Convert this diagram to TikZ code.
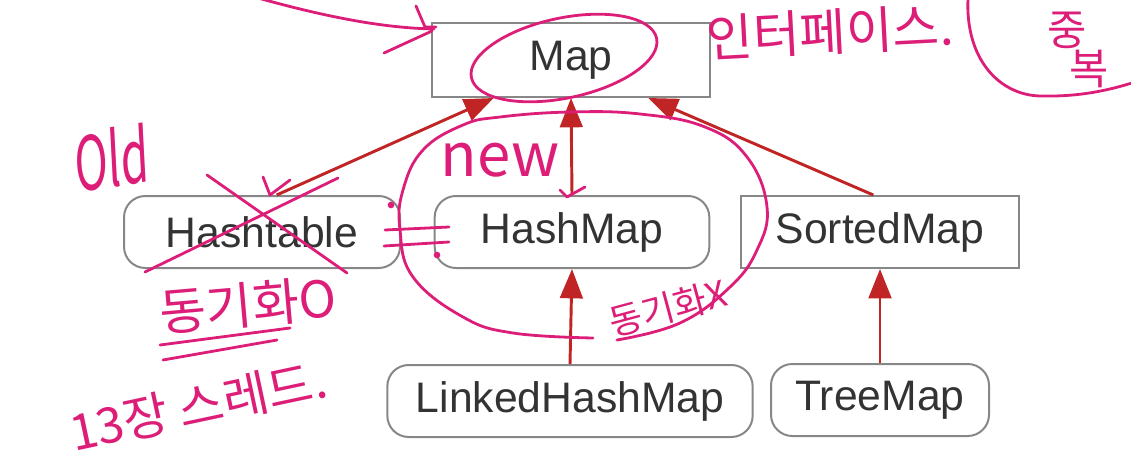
\documentclass[tikz,border=0pt]{standalone}
\usepackage{fontspec}
\setmainfont{Liberation Sans}
\newfontfamily\kr{Noto Sans CJK KR}
\usetikzlibrary{arrows.meta}
\definecolor{boxline}{RGB}{135,135,135}
\definecolor{arrowred}{RGB}{192,36,36}
\definecolor{penpink}{RGB}{220,30,120}
\begin{document}
\begin{tikzpicture}[x=0.75pt,y=-0.75pt,
  cls/.style={draw=boxline,line width=1.5pt,minimum height=54pt,inner sep=0pt,text=black!80,font=\fontsize{32}{38}\selectfont},
  iface/.style={cls,rectangle},
  impl/.style={cls,rounded corners=16pt},
  inh/.style={draw=arrowred,line width=2.2pt,-{Triangle[length=22pt,width=17pt]}},
  pen/.style={draw=penpink,line width=2.1pt,line cap=round,line join=round},
  note/.style={text=penpink,inner sep=0pt}]
\useasboundingbox (0,0) rectangle (1131,474);
\clip (0,0) rectangle (1131,474);

% class boxes
\node[iface,minimum width=208.5pt,minimum height=55.5pt] (map) at (571,60) {Map};
\node[impl,minimum width=207pt] (ht) at (262,232) {Hashtable};
\node[impl,minimum width=206pt] (hm) at (572,232) {HashMap};
\node[iface,minimum width=208.5pt] (sm) at (880,232) {SortedMap};
\node[impl,minimum width=274pt] (lhm) at (570,401) {LinkedHashMap};
\node[impl,minimum width=163.5pt] (tm) at (880,400) {TreeMap};

% inheritance arrows
\draw[inh] ([xshift=11pt]ht.north) -- ([xshift=-58pt]map.south);
\draw[inh] (hm.north) -- (map.south);
\draw[inh] ([xshift=-5pt]sm.north) -- ([xshift=58pt]map.south);
\draw[inh] (lhm.north) -- (hm.south);
\draw[inh] (tm.north) -- (sm.south);

% handwritten annotations
\draw[pen] (258,-2) .. controls (330,18) and (385,28) .. (434,29);
\draw[pen] (416,6) -- (425,27) -- (436,27);
\draw[pen] (384,53) -- (432,31);
\draw[pen,rotate around={12:(564,58)}] (564,58) ellipse [x radius=71pt, y radius=30pt];
\node[note,font=\kr\fontsize{38}{42}\selectfont,rotate=3] (iface) at (830,32) {인터페이스.};
\draw[pen] (968,-2) .. controls (965,60) and (1000,95) .. (1040,96) .. controls (1080,97) and (1110,90) .. (1135,82);
\node[note,font=\kr\fontsize{32}{26}\selectfont,align=left] (dup) at (1078,50) {중\\\hspace*{16pt}복};

\node[note,font=\kr\fontsize{56}{60}\selectfont,xscale=0.6,rotate=5] (old) at (112,158) {Old};
\draw[pen] (207,175) -- (347,273);
\draw[pen] (338,178) -- (145,272);
\draw[pen] (263,177) -- (270,195) -- (290,180);

\draw[pen] (385,230) -- (449,227);
\draw[pen] (384,246) -- (449,242);
\fill[penpink] (391,205) circle (2.5pt);
\fill[penpink] (437,255) circle (2.5pt);

\draw[pen] plot[smooth,tension=0.7] coordinates {(617,340) (680,323) (730,287) (757,250) (767,207) (747,157) (705,127) (640,114) (570,112) (500,117) (463,125) (423,150) (403,190) (400,230) (413,277) (463,317) (513,333) (593,338)};
\node[note,font=\kr\fontsize{45}{50}\selectfont] (new) at (500,160) {new};
\draw[pen] (560,190) -- (567,197) -- (585,187);
\node[note,font=\kr\fontsize{27}{30}\selectfont,rotate=15] (nosync) at (668,308) {동기화X};

\node[note,font=\kr\fontsize{38}{42}\selectfont,rotate=5] (sync) at (248,305) {동기화O};
\draw[pen] (160,345) -- (290,328);
\draw[pen] (163,360) -- (277,340);
\node[note,font=\kr\fontsize{37}{40}\selectfont,rotate=12] (thread) at (198,406) {13장 스레드.};
\end{tikzpicture}
\end{document}
